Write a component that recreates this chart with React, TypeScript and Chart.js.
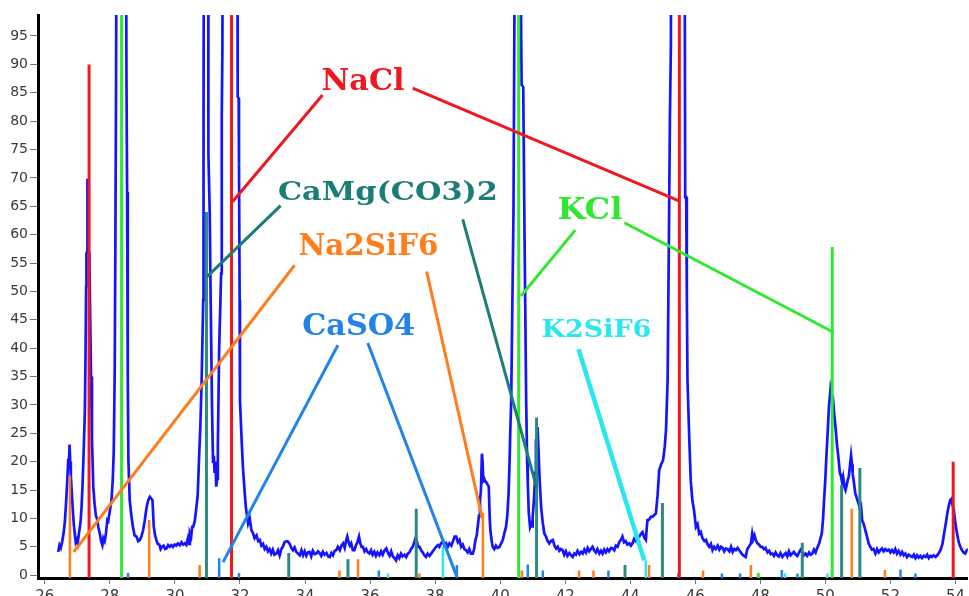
import React, { useEffect, useRef } from 'react';
import { Chart, registerables } from 'chart.js';

Chart.register(...registerables);

// ---- axes ----
const X_MIN = 25.79;
const X_MAX = 54.38;
const Y_MIN = -0.5;
const Y_MAX = 98.7;
const X_TICKS = [26, 28, 30, 32, 34, 36, 38, 40, 42, 44, 46, 48, 50, 52, 54];
const Y_TICKS = [0, 5, 10, 15, 20, 25, 30, 35, 40, 45, 50, 55, 60, 65, 70, 75, 80, 85, 90, 95];

// ---- measured pattern (2theta, intensity) ----
const SPECTRUM_2THETA = [
  26.41, 26.45, 26.49, 26.53, 26.58, 26.62, 26.66, 26.69, 26.72, 26.74, 26.76, 26.78, 26.8, 26.83, 26.86, 26.89, 26.92, 26.95, 26.98,
  27.01, 27.04, 27.07, 27.1, 27.13, 27.16, 27.19, 27.23, 27.25, 27.27, 27.28, 27.3, 27.31, 27.34, 27.35, 27.37, 27.39, 27.42, 27.45, 27.49,
  27.53, 27.57, 27.61, 27.65, 27.69, 27.73, 27.77, 27.8, 27.84, 27.88, 27.92, 27.95, 27.99, 28.05, 28.09, 28.12, 28.15, 28.17, 28.19, 28.22,
  28.35, 28.48, 28.51, 28.53, 28.55, 28.57, 28.61, 28.66, 28.71, 28.76, 28.82, 28.87, 28.92, 28.97, 29.02, 29.07, 29.13, 29.18, 29.23, 29.27,
  29.31, 29.35, 29.39, 29.43, 29.47, 29.52, 29.56, 29.6, 29.65, 29.7, 29.74, 29.79, 29.84, 29.89, 29.94, 29.99, 30.04, 30.09, 30.15, 30.2,
  30.25, 30.3, 30.35, 30.4, 30.44, 30.46, 30.5, 30.53, 30.56, 30.61, 30.66, 30.7, 30.74, 30.78, 30.82, 30.87, 30.88, 30.9, 30.97, 31.02,
  31.03, 31.07, 31.1, 31.14, 31.17, 31.2, 31.22, 31.25, 31.27, 31.3, 31.32, 31.36, 31.4, 31.42, 31.44, 31.46, 31.5, 31.7, 31.91, 31.93,
  31.96, 31.97, 31.99, 32.0, 32.05, 32.09, 32.14, 32.18, 32.25, 32.3, 32.35, 32.4, 32.45, 32.51, 32.56, 32.61, 32.66, 32.71, 32.76, 32.81,
  32.86, 32.91, 32.96, 33.01, 33.06, 33.12, 33.17, 33.22, 33.27, 33.32, 33.37, 33.43, 33.48, 33.53, 33.58, 33.63, 33.68, 33.73, 33.78, 33.84,
  33.89, 33.94, 33.99, 34.04, 34.09, 34.14, 34.19, 34.24, 34.3, 34.35, 34.4, 34.45, 34.5, 34.55, 34.6, 34.66, 34.71, 34.76, 34.81, 34.86,
  34.91, 34.96, 35.01, 35.07, 35.12, 35.17, 35.22, 35.26, 35.3, 35.34, 35.38, 35.42, 35.47, 35.52, 35.56, 35.61, 35.66, 35.7, 35.74, 35.78,
  35.83, 35.88, 35.93, 35.98, 36.03, 36.08, 36.13, 36.18, 36.23, 36.29, 36.34, 36.39, 36.44, 36.5, 36.55, 36.6, 36.65, 36.7, 36.75, 36.8,
  36.85, 36.9, 36.95, 37.0, 37.06, 37.11, 37.16, 37.21, 37.26, 37.31, 37.36, 37.4, 37.44, 37.48, 37.52, 37.57, 37.62, 37.67, 37.72, 37.77,
  37.83, 37.88, 37.93, 37.98, 38.03, 38.08, 38.13, 38.18, 38.24, 38.29, 38.34, 38.39, 38.44, 38.5, 38.55, 38.6, 38.65, 38.7, 38.75, 38.8,
  38.85, 38.9, 38.95, 39.0, 39.05, 39.1, 39.16, 39.2, 39.24, 39.28, 39.31, 39.35, 39.38, 39.41, 39.44, 39.46, 39.48, 39.51, 39.54, 39.57,
  39.61, 39.65, 39.68, 39.7, 39.74, 39.77, 39.82, 39.87, 39.92, 39.98, 40.03, 40.08, 40.13, 40.18, 40.22, 40.26, 40.29, 40.31, 40.34, 40.37,
  40.41, 40.44, 40.5, 40.64, 40.66, 40.71, 40.75, 40.8, 40.83, 40.85, 40.88, 40.92, 40.95, 40.98, 41.0, 41.03, 41.05, 41.08, 41.1, 41.13,
  41.15, 41.18, 41.21, 41.26, 41.31, 41.36, 41.41, 41.46, 41.51, 41.56, 41.62, 41.67, 41.72, 41.77, 41.82, 41.87, 41.92, 41.97, 42.02, 42.07,
  42.13, 42.18, 42.23, 42.28, 42.33, 42.38, 42.44, 42.49, 42.54, 42.59, 42.64, 42.69, 42.74, 42.79, 42.84, 42.89, 42.94, 42.99, 43.05, 43.1,
  43.15, 43.2, 43.25, 43.3, 43.35, 43.41, 43.46, 43.51, 43.56, 43.61, 43.66, 43.71, 43.76, 43.81, 43.86, 43.91, 43.97, 44.02, 44.07, 44.12,
  44.17, 44.22, 44.28, 44.33, 44.38, 44.43, 44.48, 44.51, 44.53, 44.58, 44.64, 44.69, 44.74, 44.79, 44.84, 44.89, 44.95, 45.01, 45.06, 45.1,
  45.15, 45.19, 45.22, 45.25, 45.28, 45.48, 45.66, 45.69, 45.72, 45.74, 45.76, 45.81, 45.86, 45.91, 45.96, 46.02, 46.07, 46.12, 46.17, 46.22,
  46.28, 46.33, 46.38, 46.43, 46.48, 46.53, 46.58, 46.63, 46.69, 46.74, 46.79, 46.84, 46.89, 46.94, 46.99, 47.05, 47.1, 47.15, 47.2, 47.25,
  47.3, 47.35, 47.4, 47.45, 47.5, 47.55, 47.6, 47.65, 47.71, 47.75, 47.78, 47.82, 47.86, 47.91, 47.96, 48.01, 48.06, 48.11, 48.16, 48.22,
  48.27, 48.32, 48.37, 48.42, 48.47, 48.52, 48.57, 48.62, 48.68, 48.73, 48.78, 48.83, 48.88, 48.93, 48.98, 49.03, 49.09, 49.14, 49.19, 49.24,
  49.29, 49.34, 49.39, 49.44, 49.5, 49.55, 49.6, 49.65, 49.7, 49.75, 49.81, 49.85, 49.89, 49.93, 49.96, 50.0, 50.03, 50.07, 50.11, 50.14,
  50.16, 50.19, 50.23, 50.27, 50.32, 50.36, 50.4, 50.43, 50.45, 50.48, 50.52, 50.55, 50.59, 50.62, 50.66, 50.69, 50.72, 50.76, 50.79, 50.82,
  50.84, 50.88, 50.92, 50.97, 51.02, 51.07, 51.1, 51.13, 51.18, 51.23, 51.28, 51.33, 51.38, 51.43, 51.48, 51.54, 51.59, 51.64, 51.69, 51.74,
  51.79, 51.84, 51.89, 51.95, 52.0, 52.05, 52.1, 52.15, 52.2, 52.25, 52.31, 52.36, 52.41, 52.46, 52.51, 52.56, 52.61, 52.67, 52.72, 52.77,
  52.82, 52.87, 52.92, 52.97, 53.03, 53.08, 53.13, 53.18, 53.23, 53.28, 53.33, 53.39, 53.44, 53.49, 53.54, 53.6, 53.65, 53.7, 53.75, 53.8,
  53.84, 53.87, 53.9, 53.95, 54.0, 54.05, 54.1, 54.15, 54.2, 54.25, 54.3, 54.35, 54.4,
];
const SPECTRUM_COUNTS = [
  4.1, 5.3, 4.8, 5.8, 7.5, 9.7, 13.5, 16.7, 20.5, 19.5, 23.0, 20.0, 17.5, 14.5, 11.5, 9.0, 7.4, 5.8, 6.2,
  5.6, 7.0, 8.2, 9.5, 12.0, 16.0, 21.0, 28.5, 38, 50.8, 56.7, 57, 69.6, 69.6, 57, 56.7, 48, 35, 24, 15.6,
  12.5, 10.5, 9.8, 8.3, 7.4, 6.0, 5.3, 6.5, 6.0, 7.4, 9.7, 9.5, 11.0, 13.2, 17, 22, 36.7, 59.6, 86, 150,
  400, 150, 88, 67.5, 35, 20.3, 13.2, 10.5, 8.5, 7.0, 6.8, 6.0, 6.2, 6.8, 7.9, 9.5, 12.0, 13.2, 13.8, 13.5,
  13.2, 8.5, 7.0, 6.2, 5.5, 5.4, 4.6, 5.0, 5.2, 4.6, 4.7, 5.3, 5.0, 5.3, 5.0, 5.4, 5.2, 5.6, 5.3, 5.8,
  5.4, 5.6, 5.3, 6.5, 5.5, 7.4, 6.8, 8.5, 8.5, 9.5, 12.0, 14, 20.3, 26, 33.8, 48.5, 80, 150, 400, 150,
  74.3, 63.8, 48, 30, 20.3, 20.5, 18, 20, 15.6, 17, 22.6, 39.7, 48.5, 53.2, 80.8, 92.5, 200, 400, 150, 84.3,
  84, 72.6, 48.5, 30.8, 24, 19.1, 15, 12.0, 9.1, 10.0, 8.0, 7.4, 6.5, 7.0, 6.0, 6.2, 5.2, 5.5, 4.6, 5.0,
  4.2, 4.6, 3.8, 4.5, 3.6, 3.8, 4.4, 3.5, 4.6, 5.0, 5.8, 6.0, 5.9, 5.5, 4.8, 4.4, 4.9, 4.1, 3.8, 3.5,
  4.4, 3.5, 4.2, 3.4, 4.0, 4.1, 3.3, 4.3, 3.7, 3.8, 4.2, 3.9, 3.4, 4.1, 3.6, 3.9, 3.3, 3.2, 3.9, 3.5,
  4.3, 4.4, 5.0, 4.4, 5.2, 5.6, 4.8, 6.0, 6.8, 5.8, 5.2, 5.6, 4.4, 4.4, 5.2, 5.8, 6.8, 5.6, 5.0, 5.0,
  4.2, 4.6, 4.0, 3.8, 4.4, 3.6, 4.1, 3.4, 4.0, 3.5, 4.2, 3.6, 4.3, 4.7, 3.9, 3.4, 4.2, 3.3, 3.0, 2.6,
  3.5, 3.0, 3.8, 3.3, 3.6, 3.2, 3.8, 4.0, 4.6, 5.0, 5.8, 6.5, 5.9, 5.0, 5.0, 4.4, 4.0, 3.5, 3.2, 3.8,
  3.4, 3.8, 4.2, 4.6, 5.0, 5.3, 5.0, 5.6, 5.9, 5.2, 5.6, 5.0, 5.6, 5.2, 6.0, 6.8, 6.8, 5.8, 6.2, 5.0,
  5.4, 4.6, 4.4, 4.0, 4.6, 3.8, 3.8, 4.6, 6.2, 7.0, 8.5, 10.5, 13.2, 15.0, 21.4, 20.0, 16.7, 17.0, 16.5, 16.4,
  16.0, 15.6, 10.0, 7.9, 6.0, 5.0, 4.6, 5.2, 4.8, 5.0, 5.6, 6.2, 7.4, 8.5, 10.5, 14.4, 20, 25, 30.8, 45,
  63.8, 100, 400, 100, 86.4, 86, 60, 30.8, 20, 16.2, 11, 8.5, 9.0, 8.6, 10.3, 12.5, 14.4, 18, 23.8, 24,
  26.1, 22, 17.3, 12, 9.2, 7.3, 6.8, 6.0, 5.6, 6.0, 6.2, 5.2, 4.7, 5.0, 4.3, 4.6, 4.4, 3.6, 4.2, 3.4,
  3.9, 3.5, 3.2, 3.8, 3.6, 4.3, 3.7, 4.1, 3.8, 4.5, 4.0, 4.8, 4.2, 4.6, 5.0, 4.4, 4.0, 4.6, 3.8, 4.3,
  3.8, 4.5, 4.0, 4.6, 4.2, 4.8, 4.7, 4.4, 5.2, 5.0, 5.8, 6.2, 6.8, 5.8, 6.0, 5.4, 5.6, 5.2, 5.6, 6.4,
  6.0, 6.6, 6.8, 7.3, 7.6, 6.6, 6.2, 8.5, 9.7, 9.8, 10.3, 10.3, 10.6, 10.9, 14, 18.5, 19.5, 20.3, 22.5, 25.6,
  34.4, 60, 80.5, 93.4, 200, 400, 150, 66.6, 66.6, 50, 34.4, 25, 16.7, 13.2, 11.5, 8.5, 9.0, 7.3, 7.6, 6.5,
  6.0, 6.2, 5.4, 5.0, 5.5, 4.4, 5.0, 4.6, 5.2, 4.5, 5.0, 4.8, 4.2, 4.7, 4.6, 4.2, 5.0, 4.1, 4.6, 4.4,
  4.8, 4.4, 4.0, 3.6, 3.4, 3.2, 4.6, 5.0, 5.6, 7.3, 6.3, 7.0, 6.2, 5.6, 5.4, 5.0, 5.0, 4.6, 4.8, 4.0,
  4.3, 3.7, 3.8, 3.4, 4.0, 3.5, 3.3, 3.9, 3.2, 3.6, 3.9, 3.3, 4.2, 3.5, 3.8, 4.1, 3.6, 3.4, 4.0, 4.5,
  4.1, 3.5, 3.8, 3.4, 4.0, 3.6, 3.8, 4.5, 4.0, 4.8, 5.6, 6.5, 7.3, 10, 13.2, 17, 20.8, 25, 29.7, 31.5,
  32.9, 32.0, 31.4, 28.5, 25.6, 22.8, 20.8, 19, 17.9, 17.5, 16.2, 17.2, 15.5, 15.0, 16.0, 16.8, 17.3, 19.5, 21.1, 19.5,
  17.9, 16.2, 14.4, 13.5, 12.6, 11.5, 12.0, 9.7, 9.0, 7.9, 6.8, 5.6, 5.0, 4.5, 4.6, 3.8, 4.6, 4.0, 4.4, 4.7,
  4.2, 4.6, 4.3, 4.5, 4.0, 4.4, 4.0, 4.6, 3.8, 4.3, 3.6, 4.1, 3.5, 3.8, 3.2, 3.6, 3.4, 3.2, 3.6, 3.0,
  3.5, 3.1, 3.4, 3.0, 3.4, 3.2, 3.6, 3.0, 3.4, 3.2, 3.5, 3.2, 3.5, 3.9, 4.4, 5.5, 7.3, 9.0, 10.9, 12.4,
  13.2, 13.4, 12.6, 11.5, 9.0, 7.3, 5.8, 5.0, 4.4, 4.0, 3.8, 4.4, 4.6,
];

// ---- reference stick patterns (position, relative intensity) ----
const NACL_POS = [27.36, 31.74, 45.51, 53.93];
const NACL_INT = [90, 120, 120, 20];
const KCL_POS = [28.36, 40.57, 47.94, 50.21];
const KCL_INT = [120, 120, 0.4, 57.8];
const DOLOMITE_POS = [30.97, 33.5, 35.32, 37.42, 41.12, 43.84, 44.99, 49.29, 50.5, 51.06];
const DOLOMITE_INT = [64, 3.9, 2.8, 11.7, 27.8, 1.8, 12.7, 5.7, 15.9, 18.9];
const NA2SIF6_POS = [26.77, 29.21, 30.76, 35.06, 35.63, 37.52, 39.47, 40.67, 42.43, 42.87, 44.58, 46.24, 47.71, 50.81, 51.83];
const NA2SIF6_INT = [17.5, 9.7, 1.8, 0.8, 2.8, 0.3, 11, 0.8, 0.8, 0.8, 1.8, 0.8, 1.8, 11.7, 0.9];
const CASO4_POS = [28.56, 31.36, 31.97, 36.27, 38.67, 40.85, 41.31, 43.33, 45.48, 46.82, 47.38, 48.66, 49.14, 52.31, 52.77];
const CASO4_INT = [0.4, 3.0, 0.4, 0.8, 1.8, 1.9, 0.8, 0.8, 0.3, 0.3, 0.3, 0.9, 0.3, 1.0, 0.3];
const K2SIF6_POS = [36.55, 38.24, 44.48, 48.76, 50.06];
const K2SIF6_INT = [0.3, 5.0, 2.6, 0.3, 0.3];

// ---- annotation leader lines [x1, y1, x2, y2] in data units ----
const NACL_LEADERS = [[34.54, 84.6, 31.77, 65.8], [37.31, 85.8, 45.48, 66.0]];
const DOLOMITE_LEADERS = [[33.25, 65.1, 30.99, 52.6], [38.85, 62.7, 41.12, 15.5]];
const KCL_LEADERS = [[42.31, 60.8, 40.64, 49.2], [43.82, 62.1, 50.25, 42.8]];
const NA2SIF6_LEADERS = [[33.68, 54.6, 26.89, 4.1], [37.74, 53.5, 39.45, 10.0]];
const CASO4_LEADERS = [[35.01, 40.5, 31.48, 2.3], [35.93, 40.9, 38.67, -0.3]];
const K2SIF6_LEADERS = [[42.41, 39.8, 44.43, 2.6]];

// ---- annotation texts (center x, baseline y in data units) ----
const LABEL_TEXT = ['NaCl', 'CaMg(CO3)2', 'KCl', 'Na2SiF6', 'CaSO4', 'K2SiF6'];
const LABEL_X = [35.785, 36.55, 42.76, 35.95, 35.65, 42.96];
const LABEL_Y = [85.48, 66.09, 62.69, 56.4, 42.3, 42.0];

// ---- styles ----
const C_SPECTRUM = '#1414ff';
const C_NACL = '#f01820';
const C_KCL = '#30e830';
const C_DOLOMITE = '#1a7d76';
const C_DOLOMITE_STICK = '#2c8a80';
const C_NA2SIF6 = '#ff7d1a';
const C_CASO4 = '#2283ea';
const C_K2SIF6 = '#2ae6ee';
const LABEL_STYLE = [
  { color: C_NACL, size: 30, width: 83 },
  { color: C_DOLOMITE, size: 26, width: 220 },
  { color: C_KCL, size: 29, width: 65 },
  { color: C_NA2SIF6, size: 30, width: 140 },
  { color: C_CASO4, size: 30, width: 113 },
  { color: C_K2SIF6, size: 25, width: 110 },
];

const sticks = (pos: number[], h: number[]) =>
  pos.flatMap((p, i) => [{ x: p, y: Y_MIN }, { x: p, y: h[i] }, { x: p, y: null }]);
const leaders = (segs: number[][]) =>
  segs.flatMap(([x1, y1, x2, y2]) => [{ x: x1, y: y1 }, { x: x2, y: y2 }, { x: x2, y: null }]);

const labelPlugin = {
  id: 'phaseLabels',
  afterDatasetsDraw(chart: any) {
    const { ctx, scales } = chart;
    const xs = scales.x;
    const ys = scales.y;
    LABEL_TEXT.forEach((text, i) => {
      const st = LABEL_STYLE[i];
      ctx.save();
      ctx.font = `bold ${st.size}px "DejaVu Serif"`;
      const w = ctx.measureText(text).width;
      ctx.translate(xs.getPixelForValue(LABEL_X[i]), ys.getPixelForValue(LABEL_Y[i]));
      ctx.scale(st.width / w, 1);
      ctx.fillStyle = st.color;
      ctx.textAlign = 'center';
      ctx.textBaseline = 'alphabetic';
      ctx.fillText(text, 0, 0);
      ctx.restore();
    });
  },
};

export default function App() {
  const ref = useRef<HTMLCanvasElement | null>(null);

  useEffect(() => {
    if (!ref.current) return;
    const stickDs = (data: any[], color: string, width: number, order: number) => ({
      type: 'line' as const,
      data,
      borderColor: color,
      borderWidth: width,
      pointRadius: 0,
      tension: 0,
      spanGaps: false,
      borderCapStyle: 'butt',
      order,
    });
    const spectrum = SPECTRUM_2THETA.map((x, i) => ({ x, y: SPECTRUM_COUNTS[i] }));

    const chart = new Chart(ref.current, {
      type: 'line',
      data: {
        datasets: [
          stickDs(leaders(K2SIF6_LEADERS), C_K2SIF6, 4.5, 1),
          stickDs(leaders(NACL_LEADERS), C_NACL, 3, 1),
          stickDs(leaders(DOLOMITE_LEADERS), C_DOLOMITE, 3, 1),
          stickDs(leaders(KCL_LEADERS), C_KCL, 3, 1),
          stickDs(leaders(NA2SIF6_LEADERS), C_NA2SIF6, 3, 1),
          stickDs(leaders(CASO4_LEADERS), C_CASO4, 3, 1),
          stickDs(sticks(NACL_POS, NACL_INT), C_NACL, 3, 2),
          stickDs(sticks(KCL_POS, KCL_INT), C_KCL, 3, 2),
          stickDs(sticks(DOLOMITE_POS, DOLOMITE_INT), C_DOLOMITE_STICK, 3, 2),
          stickDs(sticks(NA2SIF6_POS, NA2SIF6_INT), C_NA2SIF6, 2.5, 2),
          stickDs(sticks(CASO4_POS, CASO4_INT), C_CASO4, 2.5, 2),
          stickDs(sticks(K2SIF6_POS, K2SIF6_INT), C_K2SIF6, 2.5, 2),
          {
            type: 'line',
            data: spectrum,
            borderColor: C_SPECTRUM,
            borderWidth: 2.7,
            pointRadius: 0,
            tension: 0,
            order: 3,
          },
        ] as any,
      },
      options: {
        animation: false,
        responsive: false,
        maintainAspectRatio: false,
        devicePixelRatio: 1,
        layout: { padding: { top: 15, right: 0, left: 0, bottom: 0 } },
        plugins: { legend: { display: false }, tooltip: { enabled: false } },
        scales: {
          x: {
            type: 'linear',
            min: X_MIN,
            max: X_MAX,
            afterBuildTicks: (s: any) => {
              s.ticks = X_TICKS.map((value) => ({ value }));
            },
            afterFit: (s: any) => {
              s.height = 18;
            },
            grid: { drawOnChartArea: false, drawTicks: true, tickLength: 6, color: '#777', lineWidth: 1 },
            border: { display: true, color: '#000', width: 3 },
            ticks: { font: { family: 'DejaVu Sans', size: 15 }, color: '#3a3a3a', padding: 4, maxRotation: 0, autoSkip: false },
          },
          y: {
            type: 'linear',
            min: Y_MIN,
            max: Y_MAX,
            afterBuildTicks: (s: any) => {
              s.ticks = Y_TICKS.map((value) => ({ value }));
            },
            afterFit: (s: any) => {
              s.width = 38;
            },
            grid: { drawOnChartArea: false, drawTicks: true, tickLength: 8, color: '#777', lineWidth: 1 },
            border: { display: true, color: '#000', width: 3 },
            ticks: { font: { family: 'DejaVu Sans', size: 14 }, color: '#3a3a3a', padding: 2, autoSkip: false },
          },
        },
      } as any,
      plugins: [labelPlugin],
    });
    return () => chart.destroy();
  }, []);

  return (
    <div style={{ position: 'fixed', left: 0, top: 0, width: 969, height: 596, background: '#fff', overflow: 'hidden' }}>
      <canvas ref={ref} width={969} height={596} style={{ display: 'block', width: 969, height: 596 }} />
    </div>
  );
}
